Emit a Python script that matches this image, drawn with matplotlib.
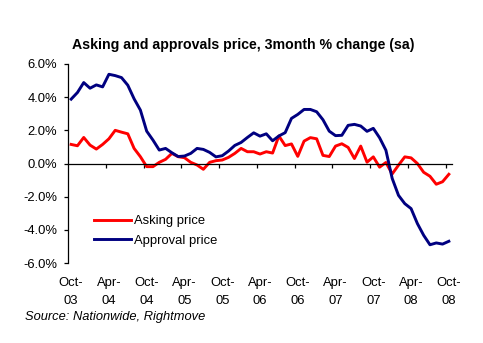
import matplotlib
matplotlib.use("Agg")
import matplotlib.pyplot as plt
from matplotlib.ticker import FixedLocator, FuncFormatter

plt.rcParams["font.family"] = ["Liberation Sans", "DejaVu Sans"]

# monthly, Oct-03 .. Oct-08
months = ["Oct-\n03", "Apr-\n04", "Oct-\n04", "Apr-\n05", "Oct-\n05", "Apr-\n06",
          "Oct-\n06", "Apr-\n07", "Oct-\n07", "Apr-\n08", "Oct-\n08"]

asking = [1.15, 1.07, 1.57, 1.11, 0.87, 1.15, 1.49, 2.00, 1.89, 1.79,
          0.91, 0.41, -0.19, -0.19, 0.07, 0.25, 0.61, 0.41, 0.35, 0.07,
          -0.09, -0.35, 0.07, 0.17, 0.21, 0.37, 0.61, 0.91, 0.71, 0.71,
          0.57, 0.71, 0.63, 1.66, 1.08, 1.18, 0.43, 1.35, 1.56, 1.49,
          0.49, 0.42, 1.05, 1.19, 0.97, 0.30, 1.05, 0.08, 0.40, -0.22,
          0.06, -0.63, -0.10, 0.40, 0.34, 0.00, -0.53, -0.77, -1.25, -1.10,
          -0.65]

approval = [3.88, 4.28, 4.88, 4.54, 4.74, 4.62, 5.38, 5.30, 5.18, 4.72,
            3.90, 3.22, 1.95, 1.41, 0.81, 0.91, 0.65, 0.42, 0.45, 0.61,
            0.91, 0.85, 0.67, 0.40, 0.47, 0.75, 1.09, 1.27, 1.57, 1.85,
            1.65, 1.79, 1.37, 1.66, 1.86, 2.72, 2.96, 3.26, 3.26, 3.12,
            2.64, 1.95, 1.68, 1.70, 2.30, 2.36, 2.26, 1.94, 2.12, 1.55,
            0.80, -0.90, -1.92, -2.42, -2.72, -3.62, -4.33, -4.90, -4.79, -4.86,
            -4.69]

W, H = 483, 343
fig = plt.figure(figsize=(W / 100, H / 100), dpi=100)
ax = fig.add_axes([68 / W, 1 - 263 / H, 384 / W, 199 / H])

x = list(range(len(asking)))
ax.plot(x, asking, color="#ff0000", lw=2.1, label="Asking price", solid_joinstyle="round")
ax.plot(x, approval, color="#000080", lw=2.1, label="Approval price", solid_joinstyle="round")

ax.set_xlim(-0.5, len(x) - 0.5)
ax.set_ylim(-6, 6)

# category axis crosses at zero, tick marks between categories
ax.spines["bottom"].set_position(("data", 0))
for s in ("top", "right"):
    ax.spines[s].set_visible(False)
for s in ("left", "bottom"):
    ax.spines[s].set_linewidth(0.9)
ax.xaxis.set_major_locator(FixedLocator([5.5 + 6 * k for k in range(10)]))
ax.xaxis.set_ticklabels([])
ax.tick_params(axis="x", direction="out", length=3, width=0.9)

ax.yaxis.set_major_locator(FixedLocator([-6, -4, -2, 0, 2, 4, 6]))
ax.yaxis.set_major_formatter(FuncFormatter(lambda v, p: f"{v:.1f}%"))
ax.tick_params(axis="y", direction="out", length=3, width=0.9, labelsize=9.4, pad=5)

# month labels sit below the plot area
for i, lab in enumerate(months):
    top, bot = lab.split("\n")
    ax.text(i * 6, -0.1, top, transform=ax.get_xaxis_transform(),
            ha="center", va="center", fontsize=9.4)
    ax.text(i * 6, -0.19, bot, transform=ax.get_xaxis_transform(),
            ha="center", va="center", fontsize=9.4)

ax.legend(loc="upper left", bbox_to_anchor=(0.0677, 0.24), frameon=False,
          fontsize=9.4, handlelength=2.8, handletextpad=0.3, labelspacing=0.55,
          borderpad=0, borderaxespad=0)

fig.text(243 / W, 1 - 45 / H, "Asking and approvals price, 3month % change (sa)",
         ha="center", va="center", fontsize=10.2, fontweight="bold")
fig.text(25 / W, 1 - 317 / H, "Source: Nationwide, Rightmove",
         ha="left", va="center", fontsize=9.3, style="italic")

fig.savefig("out.png", dpi=100)
